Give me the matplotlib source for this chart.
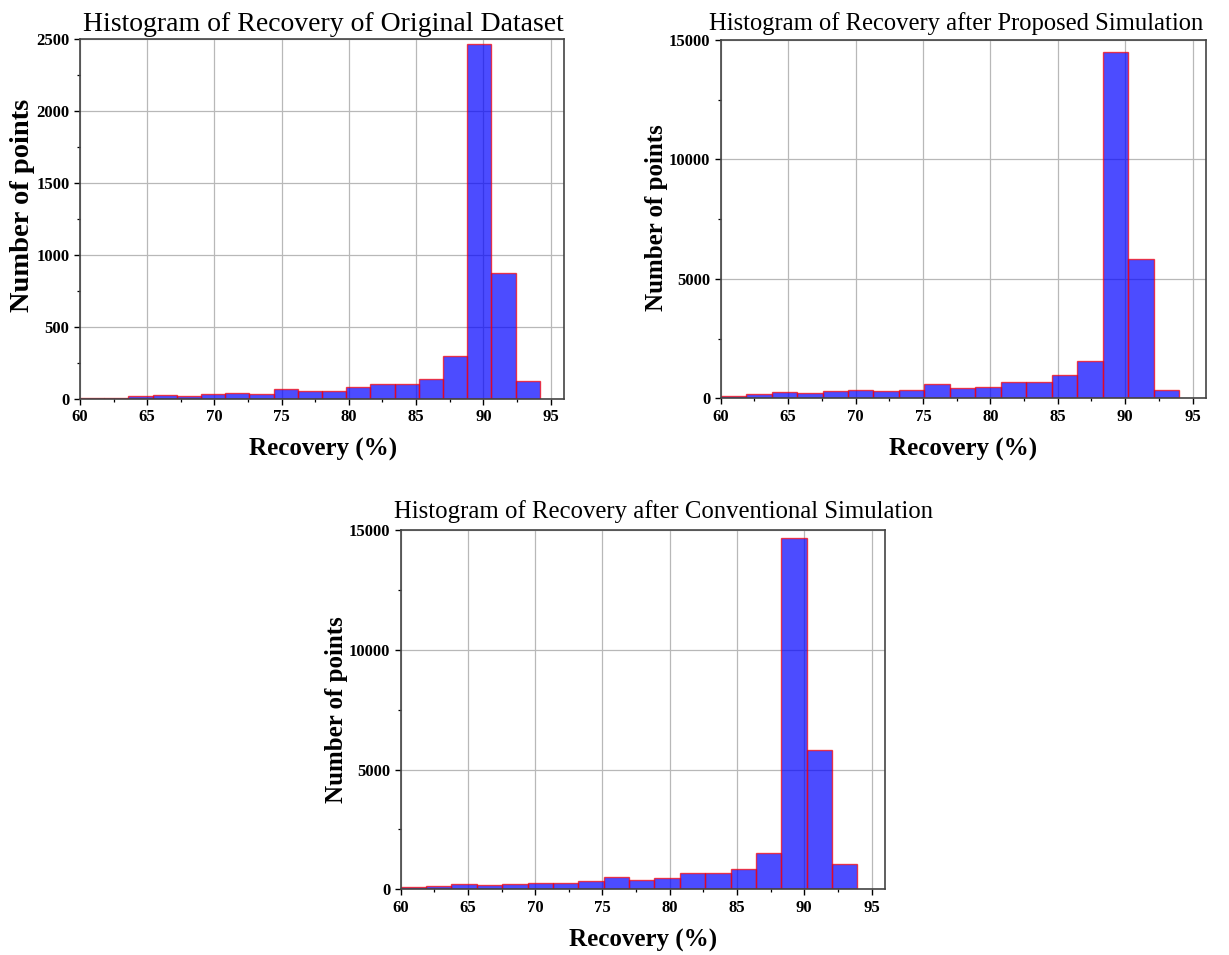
import numpy as np
import matplotlib
matplotlib.use("Agg")
import matplotlib.pyplot as plt
from matplotlib.ticker import MultipleLocator

plt.rcParams['font.family'] = ['Liberation Serif', 'DejaVu Serif']

# Histogram bin layout (start, width) and counts for each panel
orig_start, orig_width = 60.0, 1.8
orig_counts = [7, 9, 18, 25, 23, 32, 39, 32, 67, 58, 58, 85, 106, 104, 136,
               300, 2470, 875, 127]

prop_start, prop_width = 60.0, 1.889
prop_counts = [84, 196, 280, 224, 293, 349, 307, 335, 587, 447, 489, 670, 699,
               992, 1580, 14500, 5820, 340]

conv_start, conv_width = 60.0, 1.886
conv_counts = [111, 139, 208, 167, 208, 264, 264, 347, 500, 403, 459, 695, 695,
               862, 1515, 14670, 5830, 1054]

titles = ["Histogram of Recovery of Original Dataset",
          "Histogram of Recovery after Proposed Simulation",
          "Histogram of Recovery after Conventional Simulation"]
x_label = "Recovery (%)"
y_label = "Number of points"
x_ticks = [60, 65, 70, 75, 80, 85, 90, 95]

W, H = 1229, 955
fig = plt.figure(figsize=(W / 100, H / 100), dpi=100)


def px_axes(left, top, right, bottom):
    return fig.add_axes([left / W, 1 - bottom / H, (right - left) / W, (bottom - top) / H])


def draw(ax, start, width, counts, ymax, ymajor, yminor):
    counts = np.asarray(counts, dtype=float)
    edges = start + width * np.arange(len(counts) + 1)
    centers = 0.5 * (edges[:-1] + edges[1:])
    ax.hist(centers, bins=edges, weights=counts, color='blue', alpha=0.7,
            edgecolor='red', linewidth=1.0, zorder=2)
    ax.set_xlim(60, 96)
    ax.set_ylim(0, ymax)
    ax.set_xticks(x_ticks)
    ax.xaxis.set_minor_locator(MultipleLocator(2.5))
    ax.yaxis.set_major_locator(MultipleLocator(ymajor))
    ax.yaxis.set_minor_locator(MultipleLocator(yminor))
    ax.grid(True, which='major', color='#b8b8b8', linewidth=0.9, zorder=0)
    ax.set_axisbelow(True)
    ax.tick_params(which='major', direction='out', length=4.5, width=1.0,
                   pad=3, labelsize=12, color='black')
    ax.tick_params(which='minor', direction='out', length=2.5, width=0.9, color='black')
    for lbl in ax.get_xticklabels() + ax.get_yticklabels():
        lbl.set_fontweight('bold')
    for sp in ax.spines.values():
        sp.set_color('#444444')
        sp.set_linewidth(1.2)


ax1 = px_axes(80, 39.5, 564, 399)
draw(ax1, orig_start, orig_width, orig_counts, 2500, 500, 250)
ax2 = px_axes(720.7, 40, 1206, 398.3)
draw(ax2, prop_start, prop_width, prop_counts, 15000, 5000, 2500)
ax3 = px_axes(400.7, 530, 885, 889.3)
draw(ax3, conv_start, conv_width, conv_counts, 15000, 5000, 2500)


def ftext(x, y, s, **kw):
    fig.text(x / W, 1 - y / H, s, **kw)


# panel titles (baseline positions)
ftext(323, 31, titles[0], fontsize=20, ha='center', va='baseline')
ftext(956, 30, titles[1], fontsize=17.7, ha='center', va='baseline')
ftext(663, 518, titles[2], fontsize=17.8, ha='center', va='baseline')

lab_kw = dict(fontsize=18, fontweight='bold', ha='center', va='center')
ftext(323, 449, x_label, **lab_kw)
ftext(963, 449, x_label, **lab_kw)
ftext(643, 940, x_label, **lab_kw)

ftext(23, 205, y_label, fontsize=20.5, fontweight='bold', ha='center',
      va='center', rotation=90)
ftext(657, 218, y_label, fontsize=18, fontweight='bold', ha='center',
      va='center', rotation=90)
ftext(337, 710, y_label, fontsize=18, fontweight='bold', ha='center',
      va='center', rotation=90)

fig.savefig("out.png", dpi=100)
